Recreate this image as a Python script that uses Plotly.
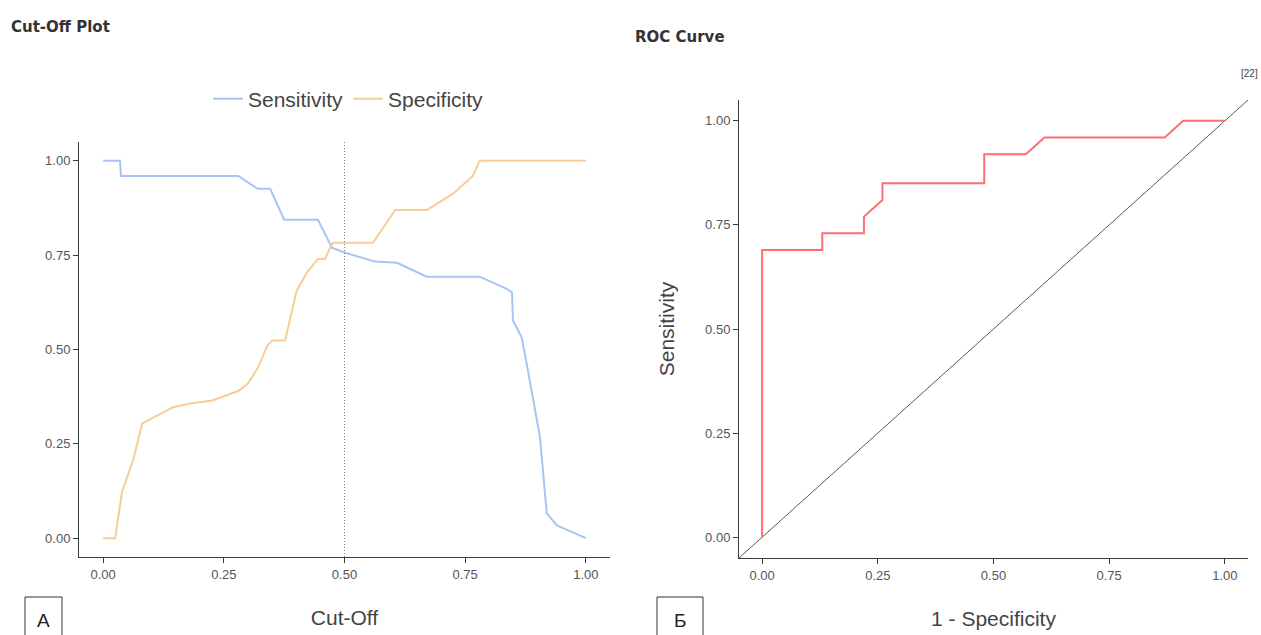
import plotly.graph_objects as go

W, H = 1261, 635

# Cut-off plot: sensitivity and specificity as functions of the threshold
cutoff_sens = [0.0, 0.035, 0.037, 0.28, 0.32, 0.346, 0.375, 0.445, 0.474, 0.50,
               0.563, 0.609, 0.67, 0.78, 0.836, 0.847, 0.849, 0.867, 0.88,
               0.905, 0.919, 0.94, 1.0]
sensitivity = [1.0, 1.0, 0.96, 0.96, 0.926, 0.926, 0.844, 0.844, 0.77, 0.757,
               0.733, 0.73, 0.693, 0.693, 0.661, 0.651, 0.577, 0.532, 0.444,
               0.267, 0.066, 0.034, 0.0]

cutoff_spec = [0.0, 0.025, 0.039, 0.062, 0.081, 0.112, 0.145, 0.18, 0.226,
               0.28, 0.30, 0.32, 0.34, 0.35, 0.377, 0.401, 0.422, 0.445, 0.46,
               0.47, 0.476, 0.559, 0.605, 0.671, 0.725, 0.766, 0.78, 1.0]
specificity = [0.0, 0.0, 0.122, 0.206, 0.304, 0.325, 0.347, 0.357, 0.365,
               0.39, 0.41, 0.45, 0.51, 0.524, 0.524, 0.656, 0.704, 0.74, 0.74,
               0.77, 0.783, 0.783, 0.87, 0.87, 0.913, 0.96, 1.0, 1.0]

optimal_cutoff = 0.5

# ROC curve
roc_fpr = [0.0, 0.0, 0.13, 0.13, 0.22, 0.22, 0.26, 0.26, 0.48, 0.48, 0.57,
           0.61, 0.87, 0.91, 1.0]
roc_tpr = [0.0, 0.69, 0.69, 0.73, 0.73, 0.77, 0.81, 0.85, 0.85, 0.92, 0.92,
           0.96, 0.96, 1.0, 1.0]
chance_line = [-0.05, 1.05]

tick_vals = [0.0, 0.25, 0.5, 0.75, 1.0]
tick_text = ["0.00", "0.25", "0.50", "0.75", "1.00"]


def fx(p):
    return p / W


def fy(p):
    return 1 - p / H


SANS = "Liberation Sans, Arial, sans-serif"
TITLE_FONT = "DejaVu Sans, sans-serif"
AXIS_COL = "#3a3a3a"

fig = go.Figure()

fig.add_trace(go.Scatter(x=cutoff_sens, y=sensitivity, mode="lines", name="Sensitivity",
                         line=dict(color="#a8c4f4", width=2), xaxis="x", yaxis="y"))
fig.add_trace(go.Scatter(x=cutoff_spec, y=specificity, mode="lines", name="Specificity",
                         line=dict(color="#f6cd96", width=2), xaxis="x", yaxis="y"))

fig.add_trace(go.Scatter(x=chance_line, y=chance_line, mode="lines", showlegend=False,
                         line=dict(color="#5a5a5a", width=1), xaxis="x2", yaxis="y2"))
fig.add_trace(go.Scatter(x=roc_fpr, y=roc_tpr, mode="lines", showlegend=False,
                         line=dict(color="#ff6d73", width=2), xaxis="x2", yaxis="y2"))

axis_common = dict(
    range=[-0.05, 1.05], tickvals=tick_vals, ticktext=tick_text,
    ticks="outside", ticklen=5, tickwidth=1, tickcolor=AXIS_COL,
    showline=True, linecolor=AXIS_COL, linewidth=1,
    showgrid=False, zeroline=False, automargin=False,
    tickfont=dict(family=SANS, size=13, color="#555555"),
)
title_font = dict(family=SANS, size=21, color="#444444")

fig.update_layout(
    width=W, height=H,
    margin=dict(l=0, r=0, t=0, b=0),
    paper_bgcolor="white", plot_bgcolor="white",
    xaxis=dict(axis_common, domain=[fx(79), fx(610)], anchor="y",
               title=dict(text="Cut-Off", font=title_font, standoff=29)),
    yaxis=dict(axis_common, domain=[fy(557), fy(142)], anchor="x"),
    xaxis2=dict(axis_common, domain=[fx(739), fx(1248)], anchor="y2",
                title=dict(text="1 - Specificity", font=title_font, standoff=29)),
    yaxis2=dict(axis_common, domain=[fy(558), fy(100)], anchor="x2",
                title=dict(text="Sensitivity", font=title_font, standoff=24)),
    legend=dict(orientation="h", x=fx(208), y=fy(99), xanchor="left", yanchor="middle",
                font=dict(family=SANS, size=21, color="#444444"),
                bgcolor="rgba(0,0,0,0)", itemwidth=30),
    showlegend=True,
)

# Threshold marker on the cut-off plot
fig.add_shape(type="line", xref="x", yref="y domain", x0=optimal_cutoff, x1=optimal_cutoff,
              y0=0, y1=1, line=dict(color="#8a8a8a", width=1, dash="1px,2px"))

# Panel titles and labels
fig.add_annotation(text="<b>Cut-Off Plot</b>", xref="paper", yref="paper",
                   x=fx(9), y=fy(27), xanchor="left", yanchor="middle", showarrow=False,
                   font=dict(family=TITLE_FONT, size=15, color="#333333"))
fig.add_annotation(text="<b>ROC Curve</b>", xref="paper", yref="paper",
                   x=fx(633), y=fy(37), xanchor="left", yanchor="middle", showarrow=False,
                   font=dict(family=TITLE_FONT, size=15, color="#333333"))
fig.add_annotation(text="[22]", xref="paper", yref="paper",
                   x=fx(1260), y=fy(74), xanchor="right", yanchor="middle", showarrow=False,
                   font=dict(family=SANS, size=10, color="#444444"))

for label, x0, x1 in [("А", 25, 62), ("Б", 657, 703)]:
    fig.add_shape(type="rect", xref="paper", yref="paper",
                  x0=fx(x0), x1=fx(x1), y0=fy(645), y1=fy(597),
                  line=dict(color="#333333", width=1), fillcolor="rgba(0,0,0,0)")
    fig.add_annotation(text=label, xref="paper", yref="paper",
                       x=fx((x0 + x1) / 2), y=fy(620), xanchor="center", yanchor="middle",
                       showarrow=False, font=dict(family=SANS, size=19, color="#222222"))

fig.write_html("out.html")
